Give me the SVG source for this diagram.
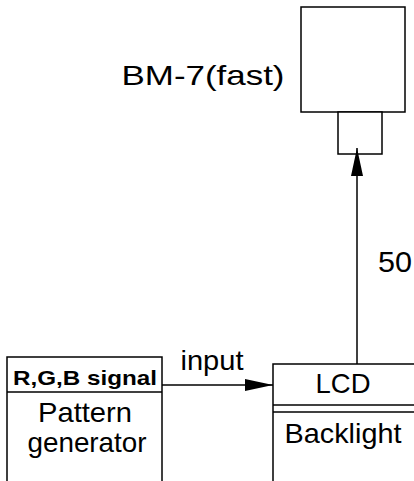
<svg xmlns="http://www.w3.org/2000/svg" width="414" height="481" viewBox="0 0 414 481">
<style>
.box{fill:#fff;stroke:#000;stroke-width:1.5}
.ln{fill:none;stroke:#000;stroke-width:1.5}
.t{font-family:"Liberation Sans",Arial,sans-serif;fill:#000;text-anchor:middle}
</style>
<defs>
<marker id="ah" markerWidth="28" markerHeight="12" refX="28" refY="6" orient="auto" markerUnits="userSpaceOnUse">
<path d="M0,0 L28,6 L0,12 Z" fill="#000"/>
</marker>
</defs>
<rect width="414" height="481" fill="#fff"/>
<g id="bm7">
<rect class="box" x="301" y="7" width="104" height="105"/>
<rect class="box" x="338" y="112" width="44" height="42"/>
<text class="t" x="203" y="85" font-size="28" textLength="163" lengthAdjust="spacingAndGlyphs">BM-7(fast)</text>
</g>
<g id="pattern">
<rect class="box" x="7" y="357" width="155" height="140"/>
<line class="ln" x1="7" y1="392" x2="162" y2="392"/>
<text class="t" x="85" y="385" font-size="21" font-weight="bold" textLength="144" lengthAdjust="spacingAndGlyphs">R,G,B signal</text>
<text class="t" x="85" y="422" font-size="28" textLength="94" lengthAdjust="spacingAndGlyphs">Pattern</text>
<text class="t" x="87" y="452" font-size="28" textLength="119" lengthAdjust="spacingAndGlyphs">generator</text>
</g>
<g id="lcd">
<rect class="box" x="273" y="364" width="160" height="140"/>
<line class="ln" x1="273" y1="405" x2="433" y2="405"/>
<line class="ln" x1="273" y1="412" x2="433" y2="412"/>
<text class="t" x="343" y="393" font-size="28" textLength="55" lengthAdjust="spacingAndGlyphs">LCD</text>
<text class="t" x="343" y="443" font-size="28" textLength="117" lengthAdjust="spacingAndGlyphs">Backlight</text>
</g>
<g id="connectors">
<line class="ln" x1="162" y1="385" x2="273" y2="385" marker-end="url(#ah)"/>
<text class="t" x="212" y="370" font-size="28" textLength="63" lengthAdjust="spacingAndGlyphs">input</text>
<line class="ln" x1="357" y1="364" x2="357" y2="148" marker-end="url(#ah)"/>
<text class="t" x="378" y="272" font-size="30" style="text-anchor:start" textLength="34" lengthAdjust="spacingAndGlyphs">50</text>
</g>
</svg>
